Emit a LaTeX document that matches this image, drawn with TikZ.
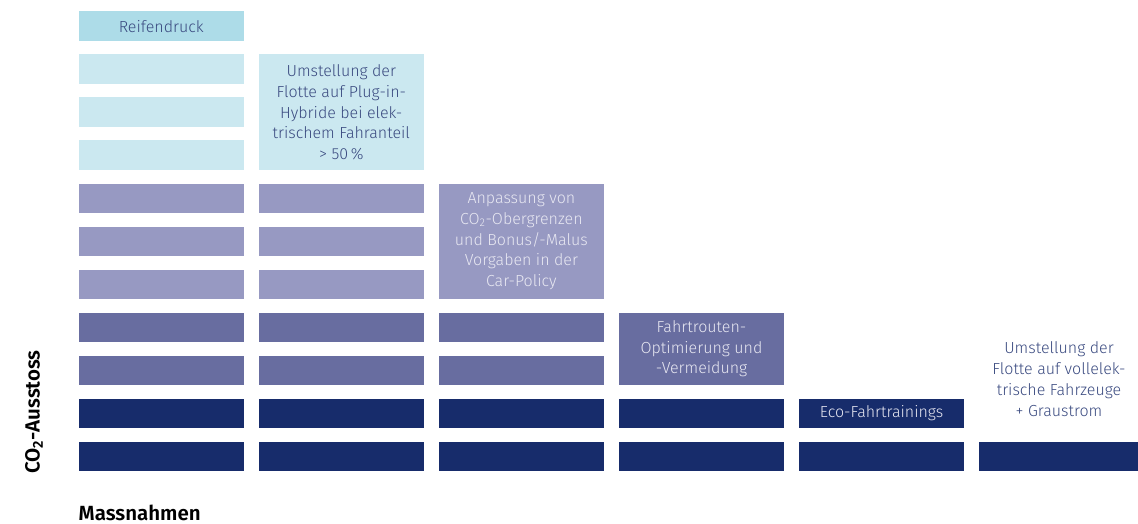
\documentclass[tikz,border=0pt]{standalone}
\usepackage{fontspec}
\setmainfont{Fira Sans Light}[BoldFont={Fira Sans SemiBold}]
\definecolor{cReif}{HTML}{ADDCE8}
\definecolor{cLight}{HTML}{CBE8F0}
\definecolor{cMid}{HTML}{9799C2}
\definecolor{cDark}{HTML}{686DA0}
\definecolor{cNavy}{HTML}{172C6B}
\definecolor{tBlue}{HTML}{3A4A80}
\definecolor{tPale}{HTML}{E8E8F2}
\begin{document}
\begin{tikzpicture}[x=1pt,y=-1pt,
  bar/.style={anchor=north west, minimum width=165pt, minimum height=29.7pt,
    inner sep=0pt, align=center, font=\fontsize{16}{20.8}\selectfont},
  tall3/.style={bar, minimum height=115.7pt},
  tall2/.style={bar, minimum height=72.7pt},
  reif/.style={bar, fill=cReif, text=tBlue},
  light/.style={bar, fill=cLight, text=tBlue},
  mid/.style={bar, fill=cMid, text=tPale},
  dark/.style={bar, fill=cDark, text=tPale},
  navy/.style={bar, fill=cNavy, text=tPale},
  axislabel/.style={font=\bfseries\fontsize{20.5}{23}\selectfont, text=black, inner sep=0pt}
]
\useasboundingbox (0,0) rectangle (1138,524);
% column 1
\node[reif]  (a1)  at (78.5,11.3)  {Reifendruck};
\node[light] (a2)  at (78.5,54.3)  {};
\node[light] (a3)  at (78.5,97.3)  {};
\node[light] (a4)  at (78.5,140.3) {};
\node[mid]   (a5)  at (78.5,183.3) {};
\node[mid]   (a6)  at (78.5,226.3) {};
\node[mid]   (a7)  at (78.5,269.3) {};
\node[dark]  (a8)  at (78.5,312.3) {};
\node[dark]  (a9)  at (78.5,355.3) {};
\node[navy]  (a10) at (78.5,398.3) {};
\node[navy]  (a11) at (78.5,441.3) {};
% column 2
\node[light,tall3] (b2) at (258.6,54.3) {Umstellung der\\Flotte auf Plug-in-\\Hybride bei elek-\\trischem Fahranteil\\> 50\,\%};
\node[mid]   (b5)  at (258.6,183.3) {};
\node[mid]   (b6)  at (258.6,226.3) {};
\node[mid]   (b7)  at (258.6,269.3) {};
\node[dark]  (b8)  at (258.6,312.3) {};
\node[dark]  (b9)  at (258.6,355.3) {};
\node[navy]  (b10) at (258.6,398.3) {};
\node[navy]  (b11) at (258.6,441.3) {};
% column 3
\node[mid,tall3] (c5) at (438.7,183.3) {Anpassung von\\CO\textsubscript{2}-Obergrenzen\\und Bonus/-Malus\\Vorgaben in der\\Car-Policy};
\node[dark]  (c8)  at (438.7,312.3) {};
\node[dark]  (c9)  at (438.7,355.3) {};
\node[navy]  (c10) at (438.7,398.3) {};
\node[navy]  (c11) at (438.7,441.3) {};
% column 4
\node[dark,tall2] (d8) at (618.8,312.3) {Fahrtrouten-\\Optimierung und\\-Vermeidung};
\node[navy]  (d10) at (618.8,398.3) {};
\node[navy]  (d11) at (618.8,441.3) {};
% column 5
\node[navy]  (e10) at (798.9,398.3) {Eco-Fahrtrainings};
\node[navy]  (e11) at (798.9,441.3) {};
% column 6
\node[align=center, text=tBlue, inner sep=0pt, font=\fontsize{16}{20.8}\selectfont] (f8) at (1059,379) {Umstellung der\\Flotte auf vollelek-\\trische Fahrzeuge\\+ Graustrom};
\node[navy, minimum width=159pt] (f11) at (979,441.3) {};
% axis labels
\node[axislabel, rotate=90] (ylab) at (34,412) {CO\textsubscript{2}-Ausstoss};
\node[axislabel, anchor=west] (xlab) at (78.5,512.5) {Massnahmen};
\end{tikzpicture}
\end{document}
